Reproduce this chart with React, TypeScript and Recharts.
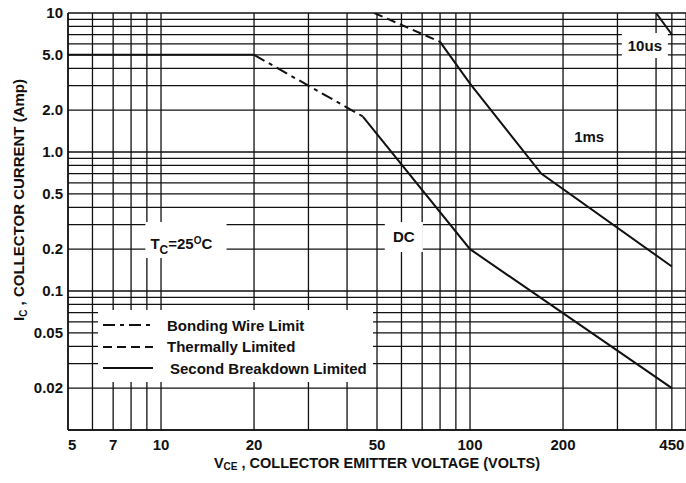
import { LineChart, Line, XAxis, YAxis, CartesianGrid, ReferenceArea, Legend } from 'recharts';

// grid lines (log paper) and labelled ticks
const xGridValues = [5, 6, 7, 8, 9, 10, 20, 30, 40, 50, 60, 70, 80, 90, 100, 200, 300, 400, 450];
const xLabelValues = [5, 7, 10, 20, 50, 100, 200, 450];
const yGridValues = [
  0.02, 0.03, 0.04, 0.05, 0.06, 0.07, 0.08, 0.09,
  0.1, 0.2, 0.3, 0.4, 0.5, 0.6, 0.7, 0.8, 0.9,
  1, 2, 3, 4, 5, 6, 7, 8, 9, 10,
];
const yLabelValues = [0.02, 0.05, 0.1, 0.2, 0.5, 1, 2, 5, 10];
const yLabelTexts = ['0.02', '0.05', '0.1', '0.2', '0.5', '1.0', '2.0', '5.0', '10'];

// safe operating area boundaries (V = volts, I = amps)
const dcMaxCurrent = [
  { v: 5, i: 5 },
  { v: 20, i: 5 },
];
const dcBondingWire = [
  { v: 20, i: 5 },
  { v: 45, i: 1.8 },
];
const dcSecondBreakdown = [
  { v: 45, i: 1.8 },
  { v: 100, i: 0.2 },
  { v: 450, i: 0.02 },
];
const ms1Thermal = [
  { v: 49, i: 10 },
  { v: 80, i: 6.2 },
];
const ms1SecondBreakdown = [
  { v: 80, i: 6.2 },
  { v: 100, i: 3.1 },
  { v: 170, i: 0.7 },
  { v: 450, i: 0.15 },
];
const us10Limit = [
  { v: 400, i: 10 },
  { v: 450, i: 7 },
];

const legendItems = [
  { label: 'Bonding Wire Limit', dash: '12 5 4 5' },
  { label: 'Thermally Limited', dash: '9 5' },
  { label: 'Second Breakdown Limited', dash: '' },
];

const FONT = '"Liberation Sans", Arial, sans-serif';
const INK = '#111';

const XTick = (props: any) => {
  const { x, y, payload } = props;
  if (!xLabelValues.includes(payload.value)) return null;
  const anchor = payload.value === 5 ? 'start' : 'middle';
  return (
    <text x={x} y={y + 12} textAnchor={anchor} fontFamily={FONT} fontWeight="bold" fontSize={15} fill={INK}>
      {payload.value}
    </text>
  );
};

const YTick = (props: any) => {
  const { x, y, payload } = props;
  const idx = yLabelValues.indexOf(payload.value);
  if (idx < 0) return null;
  return (
    <text x={x} y={y + 5} textAnchor="end" fontFamily={FONT} fontWeight="bold" fontSize={15} fill={INK}>
      {yLabelTexts[idx]}
    </text>
  );
};

const xTitle = (props: any) => {
  const vb = props.viewBox;
  return (
    <text x={vb.x + vb.width / 2} y={vb.y + 38} textAnchor="middle" fontFamily={FONT} fontWeight="bold" fontSize={14.5} fill={INK}>
      V<tspan fontSize={10} dy={2}>CE</tspan>
      <tspan dy={-2}> , COLLECTOR EMITTER VOLTAGE (VOLTS)</tspan>
    </text>
  );
};

const yTitle = () => (
  <text x={24} y={200} transform="rotate(-90, 24, 200)" textAnchor="middle" fontFamily={FONT} fontWeight="bold" fontSize={15} fill={INK}>
    I<tspan fontSize={10} dy={3}>C</tspan>
    <tspan dy={-3}> , COLLECTOR CURRENT (Amp)</tspan>
  </text>
);

const tcLabel = (props: any) => {
  const vb = props.viewBox;
  return (
    <text x={vb.x + 5} y={vb.y + 27} fontFamily={FONT} fontWeight="bold" fontSize={15} fill={INK}>
      T<tspan fontSize={12} dy={5}>C</tspan>
      <tspan dy={-5}>=25</tspan>
      <tspan fontSize={10} dy={-5}>O</tspan>
      <tspan dy={5}>C</tspan>
    </text>
  );
};

const textLabel = (value: string) => ({
  value,
  position: 'center' as const,
  fill: INK,
  fontSize: 15,
  fontWeight: 'bold',
  fontFamily: FONT,
});

const LegendBox = () => (
  <div style={{ background: '#fff', width: 275, height: 72, position: 'relative', fontFamily: FONT }}>
    {legendItems.map((item, idx) => (
      <div key={item.label} style={{ position: 'absolute', left: 0, top: 5 + idx * 21.5, height: 20, display: 'flex', alignItems: 'center' }}>
        <svg width={60} height={20} style={{ marginLeft: 5 }}>
          <line x1={0} y1={10} x2={50} y2={10} stroke={INK} strokeWidth={2} strokeDasharray={item.dash || undefined} />
        </svg>
        <span style={{ marginLeft: idx === 2 ? 7 : 4, fontSize: 15, fontWeight: 'bold', color: INK, whiteSpace: 'nowrap' }}>
          {item.label}
        </span>
      </div>
    ))}
  </div>
);

export default function App() {
  const lineProps = {
    dataKey: 'i',
    stroke: INK,
    strokeWidth: 2,
    dot: false,
    activeDot: false,
    isAnimationActive: false,
    type: 'linear' as const,
    legendType: 'none' as const,
  };

  return (
    <div style={{ position: 'absolute', left: 0, top: 0, width: 686, height: 483, background: '#fff' }}>
      <LineChart width={686} height={483} margin={{ top: 13, right: 0, left: 8, bottom: 23 }}>
        <CartesianGrid stroke={INK} strokeWidth={1.3} />
        <XAxis
          dataKey="v"
          type="number"
          scale="log"
          domain={[5, 500]}
          allowDataOverflow
          ticks={xGridValues}
          interval={0}
          tickSize={0}
          tickMargin={8}
          tick={<XTick />}
          height={30}
          axisLine={{ stroke: INK, strokeWidth: 1.5 }}
          tickLine={false}
          label={xTitle}
        />
        <YAxis
          type="number"
          scale="log"
          domain={[0.01, 10]}
          allowDataOverflow
          ticks={yGridValues}
          interval={0}
          tickSize={0}
          tickMargin={5}
          tick={<YTick />}
          width={60}
          axisLine={{ stroke: INK, strokeWidth: 1.5 }}
          tickLine={false}
          label={yTitle}
        />
        <ReferenceArea x1={8.9} x2={16.3} y1={0.173} y2={0.313} fill="#fff" fillOpacity={1} stroke="none" ifOverflow="visible" label={tcLabel} />
        <ReferenceArea x1={53} x2={70.4} y1={0.191} y2={0.313} fill="#fff" fillOpacity={1} stroke="none" ifOverflow="visible" label={textLabel('DC')} />
        <ReferenceArea x1={211} x2={280} y1={1.07} y2={1.56} fill="#fff" fillOpacity={1} stroke="none" ifOverflow="visible" label={textLabel('1ms')} />
        <ReferenceArea x1={310} x2={437} y1={4.74} y2={7.18} fill="#fff" fillOpacity={1} stroke="none" ifOverflow="visible" label={textLabel('10us')} />
        <Line data={dcMaxCurrent} {...lineProps} />
        <Line data={dcBondingWire} {...lineProps} strokeDasharray="12 5 4 5" />
        <Line data={dcSecondBreakdown} {...lineProps} />
        <Line data={ms1Thermal} {...lineProps} strokeDasharray="9 5" />
        <Line data={ms1SecondBreakdown} {...lineProps} />
        <Line data={us10Limit} {...lineProps} />
        <Legend
          layout="vertical"
          align="center"
          verticalAlign="middle"
          content={<LegendBox />}
          wrapperStyle={{ left: 98, top: 310, width: 275, height: 72 }}
        />
      </LineChart>
    </div>
  );
}
